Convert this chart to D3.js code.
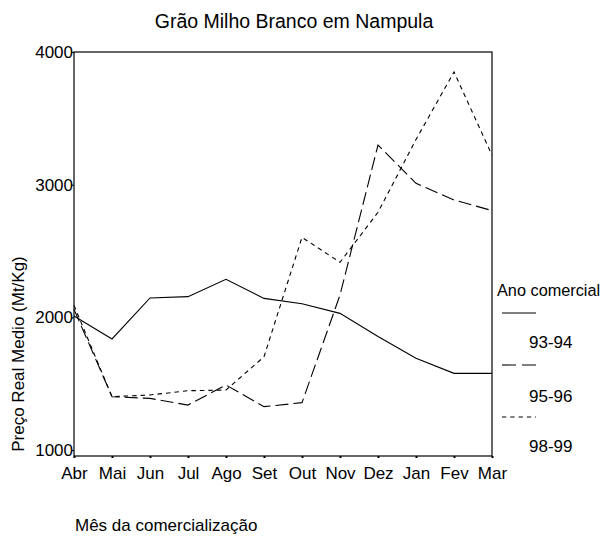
<!DOCTYPE html>
<html><head><meta charset="utf-8">
<script src="https://cdn.jsdelivr.net/npm/d3@7"></script>
<style>body{margin:0;background:#fff}svg{display:block}text{font-family:"Liberation Sans",Arial,sans-serif;fill:#000}</style>
</head><body><svg id="c" width="603" height="539"></svg>
<script>
const months = ["Abr","Mai","Jun","Jul","Ago","Set","Out","Nov","Dez","Jan","Fev","Mar"];
const yTicks = [1000, 2000, 3000, 4000];
const seriesNames = ["93-94", "95-96", "98-99"];
const s9394 = [2010, 1837, 2146, 2156, 2287, 2143, 2103, 2030, 1856, 1691, 1578, 1578];
const s9596 = [2060, 1402, 1389, 1339, 1490, 1327, 1357, 2168, 3299, 3010, 2885, 2805];
const s9899 = [2090, 1402, 1415, 1447, 1452, 1703, 2603, 2415, 2792, 3340, 3850, 3222];
const dashes = [null, "13,5", "4.5,4"];
const legendDashes = [null, "14,6", "4.3,4"];

const svg = d3.select("#c");
const L = 74, R = 492, T = 52, B = 456;
const x = d3.scalePoint().domain(months).range([L, R]);
const y = d3.scaleLinear().domain([955, 4000]).range([B, T]);
const FS = "17px";

svg.append("text").attr("x", 294).attr("y", 28).attr("text-anchor", "middle")
  .style("font-size", "19.5px").text("Grão Milho Branco em Nampula");

// frame
svg.append("rect").attr("x", L).attr("y", T).attr("width", R - L).attr("height", B - T)
  .attr("fill", "none").attr("stroke", "#000").attr("stroke-width", 1.2);

const xa = svg.append("g").attr("transform", `translate(0,${B})`)
  .call(d3.axisBottom(x).tickSize(2).tickPadding(9));
xa.select(".domain").remove();
xa.selectAll("text").style("font-size", FS).style("font-family", "Liberation Sans, Arial, sans-serif").attr("fill", "#000");
xa.selectAll("line").attr("stroke", "#000").attr("stroke-width", 2);

const ya = svg.append("g").attr("transform", `translate(${L},0)`)
  .call(d3.axisLeft(y).tickValues(yTicks).tickSize(2).tickPadding(-1).tickFormat(d3.format("d")));
ya.select(".domain").remove();
ya.selectAll("text").style("font-size", FS).style("font-family", "Liberation Sans, Arial, sans-serif").attr("fill", "#000");
ya.selectAll("line").attr("stroke", "#000");

svg.append("text").attr("transform", "translate(24,354) rotate(-90)").attr("text-anchor", "middle")
  .style("font-size", FS).text("Preço Real Medio (Mt/Kg)");
svg.append("text").attr("x", 75).attr("y", 531).style("font-size", FS).text("Mês da comercialização");

const line = d3.line().x((d, i) => x(months[i])).y(d => y(d));
[s9394, s9596, s9899].forEach((s, k) => {
  svg.append("path").datum(s).attr("d", line).attr("fill", "none").attr("stroke", "#000")
    .attr("stroke-width", 1.1).attr("stroke-dasharray", dashes[k]);
});

// legend
svg.append("text").attr("x", 497).attr("y", 296).style("font-size", "16.3px").text("Ano comercial");
const ly = [313, 365, 417], lt = [348, 402, 452];
seriesNames.forEach((n, k) => {
  svg.append("line").attr("x1", 502).attr("x2", 536).attr("y1", ly[k]).attr("y2", ly[k])
    .attr("stroke", "#000").attr("stroke-width", 1.1).attr("stroke-dasharray", legendDashes[k]);
  svg.append("text").attr("x", 529).attr("y", lt[k]).style("font-size", FS).text(n);
});
</script></body></html>
